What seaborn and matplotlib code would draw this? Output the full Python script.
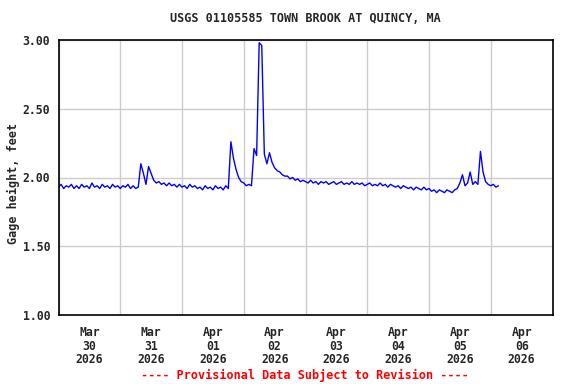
#!/usr/bin/env python3

import numpy as np
import pandas as pd
import seaborn as sns
from matplotlib import pyplot as plt

# Hourly gage height (feet), starting 2026-03-30 00:00
day_mar30 = [1.93, 1.95, 1.92, 1.94, 1.93, 1.95, 1.92, 1.94, 1.92, 1.95, 1.93, 1.94,
             1.92, 1.96, 1.93, 1.94, 1.92, 1.95, 1.93, 1.94, 1.92, 1.95, 1.93, 1.94]
day_mar31 = [1.92, 1.94, 1.93, 1.95, 1.92, 1.94, 1.92, 1.93, 2.10, 2.03, 1.95, 2.08,
             2.03, 1.98, 1.96, 1.97, 1.95, 1.96, 1.94, 1.96, 1.94, 1.95, 1.93, 1.95]
day_apr01 = [1.93, 1.94, 1.92, 1.95, 1.93, 1.94, 1.92, 1.93, 1.91, 1.94, 1.92, 1.93,
             1.91, 1.94, 1.92, 1.93, 1.91, 1.94, 1.92, 2.26, 2.14, 2.06, 2.00, 1.97]
day_apr02 = [1.96, 1.94, 1.95, 1.94, 2.21, 2.16, 2.98, 2.96, 2.17, 2.10, 2.18, 2.11,
             2.07, 2.05, 2.04, 2.02, 2.01, 2.01, 1.99, 2.00, 1.98, 1.99, 1.97, 1.98]
day_apr03 = [1.97, 1.96, 1.98, 1.96, 1.97, 1.95, 1.97, 1.96, 1.97, 1.95, 1.96, 1.97,
             1.95, 1.96, 1.97, 1.95, 1.96, 1.95, 1.97, 1.95, 1.96, 1.95, 1.96, 1.94]
day_apr04 = [1.95, 1.96, 1.94, 1.95, 1.94, 1.96, 1.94, 1.95, 1.93, 1.95, 1.94, 1.93,
             1.94, 1.92, 1.94, 1.93, 1.92, 1.93, 1.91, 1.93, 1.92, 1.91, 1.93, 1.91]
day_apr05 = [1.92, 1.90, 1.91, 1.89, 1.91, 1.90, 1.89, 1.91, 1.90, 1.89, 1.91, 1.92,
             1.96, 2.02, 1.94, 1.96, 2.04, 1.95, 1.97, 1.95, 2.19, 2.04, 1.97, 1.95]
day_apr06 = [1.94, 1.95, 1.93, 1.94]

gage = day_mar30 + day_mar31 + day_apr01 + day_apr02 + day_apr03 + day_apr04 + day_apr05 + day_apr06
times = pd.date_range("2026-03-30 00:00", periods=len(gage), freq="h")
df = pd.DataFrame({"time": times, "gage": gage})

day_labels = ["Mar\n30\n2026", "Mar\n31\n2026", "Apr\n01\n2026", "Apr\n02\n2026",
              "Apr\n03\n2026", "Apr\n04\n2026", "Apr\n05\n2026", "Apr\n06\n2026"]

sns.set_style("white")
plt.rcParams["font.family"] = ["DejaVu Sans Mono"]
plt.rcParams["font.weight"] = "bold"

fig = plt.figure(figsize=(5.76, 3.84), dpi=100)
ax = fig.add_axes([58.5 / 576, 1 - 315 / 384, 494 / 576, 275 / 384])

sns.lineplot(data=df, x="time", y="gage", color="#0000ff", linewidth=1.0, ax=ax)

ax.set_xlim(pd.Timestamp("2026-03-30"), pd.Timestamp("2026-04-07"))
ax.set_ylim(1.0, 3.0)

midnights = pd.date_range("2026-03-30", "2026-04-07", freq="D")
noons = pd.date_range("2026-03-30 12:00", periods=8, freq="D")
ax.set_xticks(midnights)
ax.set_xticklabels([""] * len(midnights))
ax.set_xticks(noons, minor=True)
ax.set_xticklabels(day_labels, minor=True, fontsize=8.3, fontweight="bold", linespacing=1.05)
ax.tick_params(axis="x", which="both", length=0, pad=8)

ax.set_yticks([1.0, 1.5, 2.0, 2.5, 3.0])
ax.set_yticklabels(["%.2f" % v for v in [1.0, 1.5, 2.0, 2.5, 3.0]], fontsize=8.3, fontweight="bold")
ax.tick_params(axis="y", length=0, pad=6)

ax.grid(True, which="major", color="#cccccc", linewidth=1.0)
ax.set_axisbelow(True)
for s in ax.spines.values():
    s.set_color("black")
    s.set_linewidth(1.2)

ax.set_xlabel("")
ax.set_ylabel("Gage height, feet", fontsize=8.5, fontweight="bold")
ax.yaxis.set_label_coords(-0.077, 0.48)

fig.text(305 / 576, 1 - 19 / 384, "USGS 01105585 TOWN BROOK AT QUINCY, MA",
         ha="center", va="center", fontsize=8.5, fontweight="bold")
fig.text(305 / 576, 1 - 375 / 384, "---- Provisional Data Subject to Revision ----",
         ha="center", va="center", fontsize=8.5, fontweight="bold", color="#ff0000")

fig.savefig("out.png", dpi=100)
